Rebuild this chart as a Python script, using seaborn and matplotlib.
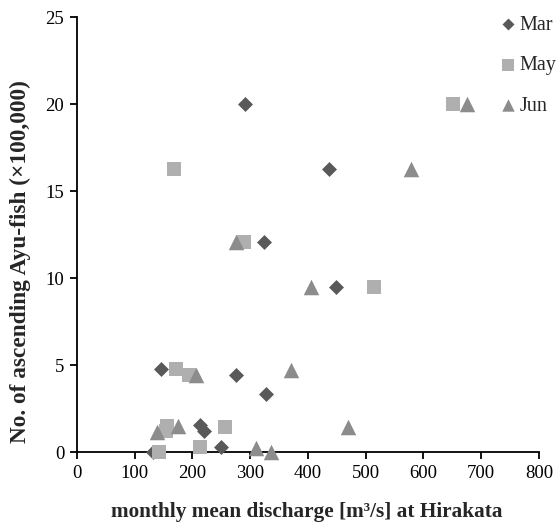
import pandas as pd
import numpy as np
import matplotlib
matplotlib.use("Agg")
import matplotlib.pyplot as plt
import seaborn as sns

# monthly mean discharge [m3/s] and ascending fish counts (x100,000)
mar_q = [292, 437, 324, 448, 145, 276, 328, 213, 220, 249, 132]
mar_n = [20.0, 16.3, 12.1, 9.5, 4.77, 4.44, 3.33, 1.57, 1.2, 0.3, 0.0]

may_q = [651, 168, 290, 514, 172, 194, 157, 155, 256, 142, 213]
may_n = [20.0, 16.3, 12.1, 9.5, 4.77, 4.44, 1.52, 1.24, 1.47, 0.0, 0.3]

jun_q = [675, 579, 275, 405, 370, 207, 139, 176, 470, 310, 337]
jun_n = [20.0, 16.3, 12.1, 9.5, 4.73, 4.44, 1.15, 1.5, 1.47, 0.25, 0.0]

months = ["Mar", "May", "Jun"]
colors = {"Mar": "#595959", "May": "#AFAFAF", "Jun": "#8C8C8C"}
markers = {"Mar": "D", "May": "s", "Jun": "^"}
sizes = {"Mar": 58, "May": 112, "Jun": 125}

df = pd.concat([
    pd.DataFrame({"q": mar_q, "n": mar_n, "month": "Mar"}),
    pd.DataFrame({"q": may_q, "n": may_n, "month": "May"}),
    pd.DataFrame({"q": jun_q, "n": jun_n, "month": "Jun"}),
], ignore_index=True)

sns.set_style("ticks")
plt.rcParams["font.family"] = ["Liberation Serif", "DejaVu Serif"]

fig = plt.figure(figsize=(5.56, 5.24), dpi=100)
ax = fig.add_axes([0.138, 0.1368, 0.8314, 0.8302])

for m in months:
    sub = df[df["month"] == m]
    sns.scatterplot(data=sub, x="q", y="n", ax=ax, color=colors[m],
                    marker=markers[m], s=sizes[m], linewidth=0,
                    label=m, clip_on=False, zorder=3)

ax.set_xlim(0, 800)
ax.set_ylim(0, 25)
ax.set_xticks(np.arange(0, 801, 100))
ax.set_yticks(np.arange(0, 26, 5))
sns.despine(ax=ax)
for sp in ["left", "bottom"]:
    ax.spines[sp].set_linewidth(1.3)
    ax.spines[sp].set_color("black")
ax.tick_params(axis="both", direction="out", length=5, width=1.3,
               labelsize=13.5, colors="black", pad=4)
ax.set_xlabel("")
ax.set_ylabel("")

# axis titles placed like the original (y title sits a bit below centre)
fig.text(0.551, 1 - 516.5 / 524, "monthly mean discharge [m\u00b3/s] at Hirakata",
         ha="center", va="baseline", fontsize=15.3, fontweight="bold")
fig.text(26 / 556, 1 - 261.7 / 524, "No. of ascending Ayu-fish (\u00d7100,000)",
         ha="center", va="baseline", rotation=90, rotation_mode="anchor",
         fontsize=16.8, fontweight="bold")

leg = ax.legend(loc="upper left", bbox_to_anchor=(0.895, 0.978),
                bbox_transform=fig.transFigure, frameon=False,
                fontsize=14.5, handlelength=0.6, handletextpad=0.3,
                labelspacing=1.06, borderaxespad=0, borderpad=0.2,
                markerscale=0.8)

fig.savefig("out.png", dpi=100)
